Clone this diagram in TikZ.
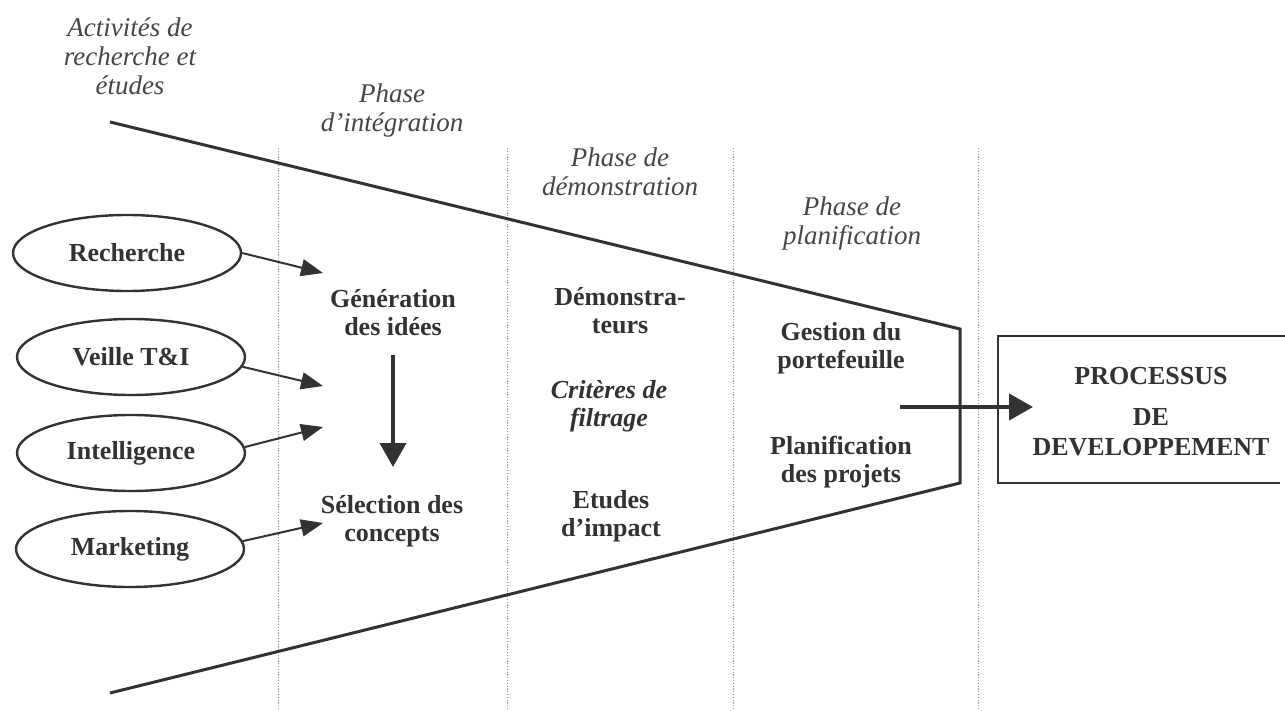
\documentclass[tikz,border=0pt]{standalone}
\usepackage{fontspec}
\setmainfont{Liberation Serif}
\usepackage[x11names, rgb]{xcolor}
\usepackage{tikz}
\usetikzlibrary{shapes,arrows.meta}
\definecolor{ink}{RGB}{50,50,52}
\definecolor{inkl}{RGB}{70,70,72}
\tikzset{
  src/.style = {ellipse, draw = ink, line width = 1.2pt, minimum width = 114pt, minimum height = 38pt, inner sep = 0pt, text = ink, font = \fontsize{13}{14}\selectfont\bfseries},
  txt/.style = {align = center, inner sep = 0pt, text = ink, font = \fontsize{13}{14}\selectfont\bfseries},
  phase/.style = {align = center, inner sep = 0pt, text = inkl, font = \fontsize{13.5}{14.5}\selectfont\itshape},
  arr/.style = {draw = ink, line width = 1pt, -{Triangle[length = 11pt, width = 8.5pt]}},
  bigarr/.style = {draw = ink, line width = 2.2pt, -{Triangle[length = 12pt, width = 13pt]}},
  sep/.style = {draw = gray!80, line width = 0.5pt, dash pattern = on 0.6pt off 0.8pt}
}
\begin{document}
\begin{tikzpicture}[x = 0.5pt, y = -0.5pt]
\useasboundingbox (0,0) rectangle (1285,711);
\foreach \xs in {278,507,733,978}
  \draw[sep] (\xs,148) -- (\xs,711);

\coordinate (f1) at (110,122);
\coordinate (f2) at (960,329);
\coordinate (f3) at (960,483);
\coordinate (f4) at (110,693);
\draw[ink, line width = 1.5pt, line join = miter] (f1) -- (f2) -- (f3) -- (f4);

\coordinate (b1) at (1285,336);
\coordinate (b2) at (998,336);
\coordinate (b3) at (998,483);
\coordinate (b4) at (1280,483);
\draw[ink, line width = 1.2pt] (b1) -- (b2) -- (b3) -- (b4);

\node[phase] (act) at (130,56) {Activités de\\recherche et\\études};
\node[phase] (ph1) at (392,111) {Phase\\d’intégration};
\node[phase] (ph2) at (620,172) {Phase de\\démonstration};
\node[phase] (ph3) at (852,224) {Phase de\\planification};

\node[src] (nR) at (127,253) {Recherche};
\node[src] (nV) at (131,357) {Veille T\&I};
\node[src] (nI) at (131,453) {Intelligence};
\node[src] (nM) at (130,549) {Marketing};

\node[txt] (gen) at (393,313) {Génération\\des idées};
\node[txt] (sel) at (392,521) {Sélection des\\concepts};
\node[txt] (dem) at (620,311) {Démonstra-\\teurs};
\node[txt, font = \fontsize{13}{14}\selectfont\bfseries\itshape] (crit) at (609,406) {Critères de\\filtrage};
\node[txt] (etu) at (611,516) {Etudes\\d’impact};
\node[txt] (ges) at (841,348) {Gestion du\\portefeuille};
\node[txt] (pla) at (841,462) {Planification\\des projets};
\node[txt, font = \fontsize{13}{15}\selectfont\bfseries] (proc) at (1151,412) {PROCESSUS\\[5.5pt]DE\\DEVELOPPEMENT};

\coordinate (e1) at (323,273);
\coordinate (e2) at (323,386);
\coordinate (e3) at (323,427);
\coordinate (e4) at (323,523);
\coordinate (v1) at (393,355);
\coordinate (v2) at (393,467);
\coordinate (h1) at (900,407);
\coordinate (h2) at (1033,407);

\draw[arr] (nR.east) -- (e1);
\draw[arr] (nV.-5) -- (e2);
\draw[arr] (nI.3) -- (e3);
\draw[arr] (nM.4) -- (e4);
\draw[bigarr, line width = 2pt] (v1) -- (v2);
\draw[bigarr] (h1) -- (h2);
\end{tikzpicture}
\end{document}
